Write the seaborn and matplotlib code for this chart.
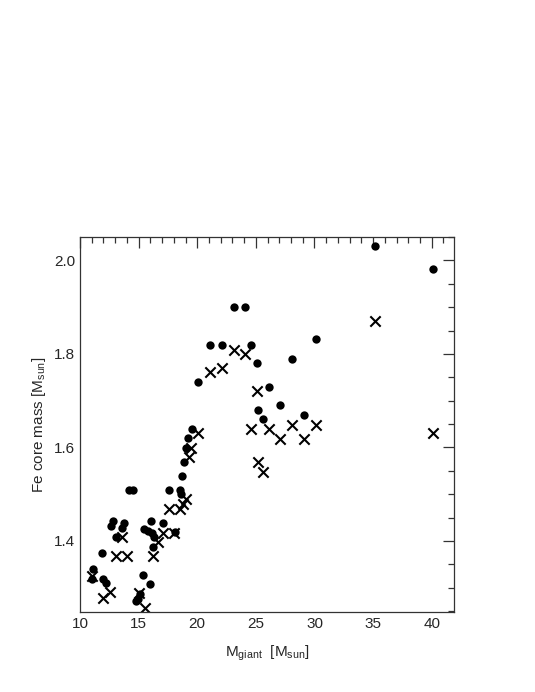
import matplotlib
matplotlib.use('Agg')
import pandas as pd
import matplotlib.pyplot as plt
import seaborn as sns
from matplotlib.ticker import MultipleLocator

# Fe core mass vs giant mass (circles and crosses)
circ_mass = [11.0, 11.15, 11.85, 12.0, 12.2, 12.65, 12.85, 13.05, 13.55, 13.75,
             14.2, 14.5, 14.8, 14.95, 15.1, 15.4, 15.95, 15.5, 15.8, 16.05,
             16.1, 16.35, 16.2, 17.1, 17.6, 18.1, 18.55, 18.65, 18.7, 18.85,
             19.0, 19.25, 19.55, 20.1, 21.1, 22.1, 23.1, 24.1, 24.6, 25.1,
             25.2, 25.6, 26.1, 27.1, 28.1, 29.1, 30.1, 35.15, 40.1]
circ_core = [1.318, 1.339, 1.375, 1.318, 1.311, 1.432, 1.442, 1.408, 1.428, 1.438,
             1.508, 1.508, 1.271, 1.276, 1.286, 1.327, 1.307, 1.425, 1.421, 1.442,
             1.418, 1.408, 1.387, 1.438, 1.509, 1.419, 1.509, 1.500, 1.538, 1.568,
             1.599, 1.620, 1.640, 1.739, 1.820, 1.820, 1.900, 1.900, 1.820, 1.781,
             1.680, 1.660, 1.729, 1.690, 1.790, 1.669, 1.831, 2.031, 1.982]

cross_mass = [11.0, 12.0, 12.55, 13.05, 13.55, 14.05, 15.05, 15.55, 16.2, 16.65,
              17.1, 18.05, 17.6, 18.5, 18.8, 19.05, 19.3, 19.5, 20.1, 21.1,
              22.1, 23.1, 24.1, 25.1, 24.6, 25.2, 25.6, 26.1, 27.1, 28.1,
              29.1, 30.1, 35.15, 40.1]
cross_core = [1.325, 1.279, 1.291, 1.367, 1.408, 1.367, 1.289, 1.257, 1.367, 1.398,
              1.418, 1.418, 1.469, 1.469, 1.478, 1.489, 1.580, 1.599, 1.630, 1.761,
              1.770, 1.809, 1.800, 1.720, 1.640, 1.568, 1.548, 1.640, 1.619, 1.649,
              1.619, 1.649, 1.871, 1.630]

df_circ = pd.DataFrame({'mass': circ_mass, 'core': circ_core})
df_cross = pd.DataFrame({'mass': cross_mass, 'core': cross_core})

sns.set_style('white')
plt.rcParams['font.family'] = ['Liberation Sans', 'DejaVu Sans']
plt.rcParams['mathtext.fontset'] = 'custom'
plt.rcParams['mathtext.rm'] = 'Liberation Sans'
plt.rcParams['mathtext.it'] = 'Liberation Sans:italic'

fig = plt.figure(figsize=(5.35, 6.92), dpi=100)
ax = fig.add_axes([0.1495, 0.1156, 0.6991, 0.5419])

sns.scatterplot(x='mass', y='core', data=df_circ, ax=ax, marker='o',
                color='black', s=36, edgecolor='black', linewidth=0)
sns.scatterplot(x='mass', y='core', data=df_cross, ax=ax, marker='x',
                color='black', s=55, linewidth=1.5)

ax.set_xlim(10, 41.9)
ax.set_ylim(1.248, 2.05)
ax.xaxis.set_major_locator(MultipleLocator(5))
ax.xaxis.set_minor_locator(MultipleLocator(1))
ax.yaxis.set_major_locator(MultipleLocator(0.2))
ax.yaxis.set_minor_locator(MultipleLocator(0.05))
ax.yaxis.set_major_formatter(plt.FormatStrFormatter('%.1f'))

ax.tick_params(which='both', direction='in', top=True, right=True,
               labelsize=11, width=0.9, color='#333333')
ax.tick_params(which='major', length=8)
ax.tick_params(which='minor', length=4)
for sp in ax.spines.values():
    sp.set_linewidth(0.9)
    sp.set_color('#333333')

ax.set_xlabel(r'M$_{\rm giant}$  [M$_{\rm sun}$]', fontsize=11, labelpad=9)
ax.set_ylabel(r'Fe core mass [M$_{\rm sun}$]', fontsize=11, labelpad=4)

plt.savefig('out.png', dpi=100)
